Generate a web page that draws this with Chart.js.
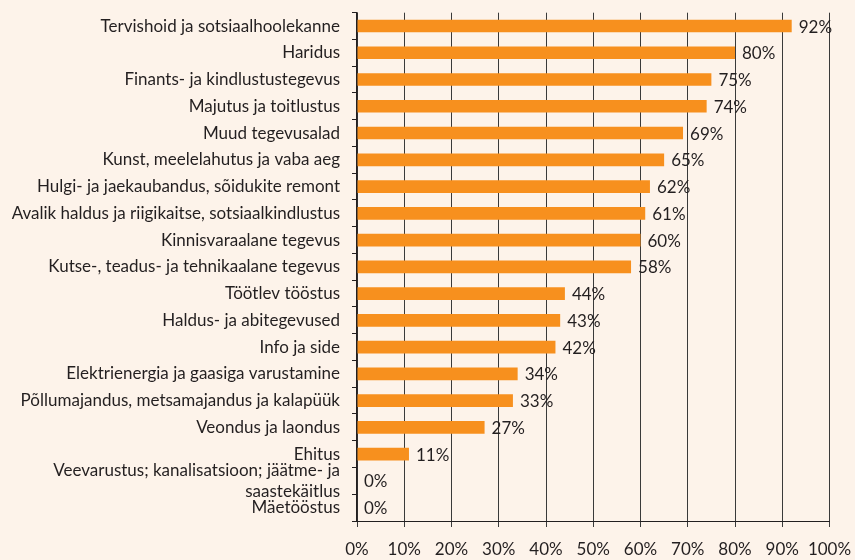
<!DOCTYPE html>
<html><head><meta charset="utf-8">
<script src="https://cdn.jsdelivr.net/npm/chart.js@4/dist/chart.umd.min.js"></script>
<style>html,body{margin:0;padding:0;background:#FDF3EA;}#wrap{width:855px;height:560px;}</style>
</head><body><div id="wrap"><canvas id="c"></canvas></div>
<script>
const categories = [
  "Tervishoid ja sotsiaalhoolekanne",
  "Haridus",
  "Finants- ja kindlustustegevus",
  "Majutus ja toitlustus",
  "Muud tegevusalad",
  "Kunst, meelelahutus ja vaba aeg",
  "Hulgi- ja jaekaubandus, sõidukite remont",
  "Avalik haldus ja riigikaitse, sotsiaalkindlustus",
  "Kinnisvaraalane tegevus",
  "Kutse-, teadus- ja tehnikaalane tegevus",
  "Töötlev tööstus",
  "Haldus- ja abitegevused",
  "Info ja side",
  "Elektrienergia ja gaasiga varustamine",
  "Põllumajandus, metsamajandus ja kalapüük",
  "Veondus ja laondus",
  "Ehitus",
  ["Veevarustus; kanalisatsioon; jäätme- ja", "saastekäitlus"],
  "Mäetööstus"
];
const values = [92, 80, 75, 74, 69, 65, 62, 61, 60, 58, 44, 43, 42, 34, 33, 27, 11, 0, 0];
const xTicks = [0,10,20,30,40,50,60,70,80,90,100];

const FONT = "Lato, 'Open Sans', sans-serif";
const labelPlugin = {
  id: 'valLabels',
  afterDatasetsDraw(chart) {
    const ctx = chart.ctx;
    const meta = chart.getDatasetMeta(0);
    ctx.save();
    ctx.font = "17px " + FONT;
    ctx.fillStyle = "#231f20";
    ctx.textBaseline = "middle";
    ctx.textAlign = "left";
    meta.data.forEach((bar, i) => {
      ctx.fillText(values[i] + "%", bar.x + 7, bar.y + 1);
    });
    ctx.restore();
  }
};

new Chart(document.getElementById('c'), {
  type: 'bar',
  data: {
    labels: categories,
    datasets: [{
      data: values,
      backgroundColor: '#F7901E',
      borderWidth: 0,
      barPercentage: 0.47,
      categoryPercentage: 1.0
    }]
  },
  options: {
    indexAxis: 'y',
    responsive: true,
    maintainAspectRatio: false,
    animation: false,
    layout: { padding: { top: 12.7, right: 25.5, left: 0, bottom: 0 } },
    plugins: { legend: { display: false }, tooltip: { enabled: false } },
    scales: {
      x: {
        min: 0, max: 100,
        afterBuildTicks(scale) { scale.ticks = xTicks.map(v => ({ value: v })); },
        afterFit(scale) { scale.height = 39; scale.paddingLeft = 0; scale.paddingRight = 0; },
        ticks: {
          callback: v => v + '%',
          color: '#231f20',
          font: { family: FONT, size: 17 },
          padding: 12,
          maxRotation: 0
        },
        grid: { color: '#3a3a3a', lineWidth: 1, tickLength: 6, drawOnChartArea: true },
        border: { display: true, color: '#231f20', width: 1 }
      },
      y: {
        afterFit(scale) { scale.width = 357; scale.paddingTop = 0; scale.paddingBottom = 0; },
        ticks: {
          color: '#231f20',
          font: { family: FONT, size: 17 },
          padding: 12,
          autoSkip: false
        },
        grid: { drawOnChartArea: false, color: '#231f20', tickLength: 5, offset: true },
        border: { display: true, color: '#231f20', width: 1.5 }
      }
    }
  },
  plugins: [labelPlugin]
});
</script></body></html>
